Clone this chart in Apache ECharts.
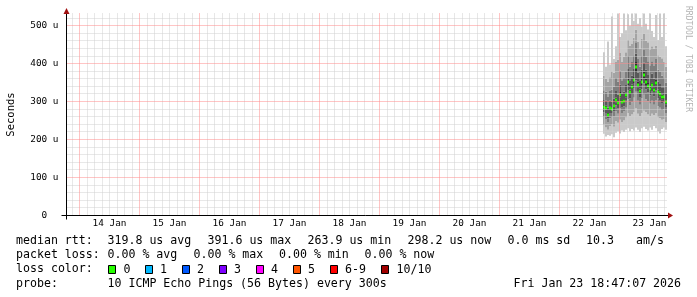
<!DOCTYPE html>
<html><head><meta charset="utf-8">
<script src="https://cdn.jsdelivr.net/npm/echarts@6/dist/echarts.min.js"></script>
<style>html,body{margin:0;padding:0;background:#fff}#c{width:697px;height:297px}</style>
</head><body><div id="c"></div>
<script>
// ---- axes (x in hours since 13 Jan 2026 00:00) ----
const xStart = 18 + 47/60 + 7/3600;      // 13 Jan 18:47:07
const xEnd = xStart + 240;                // 23 Jan 18:47:07
const yMax = 532;                         // microseconds
const dayLabels = ['14 Jan','15 Jan','16 Jan','17 Jan','18 Jan','19 Jan','20 Jan','21 Jan','22 Jan','23 Jan'];
const dayLabelHours = [36,60,84,108,132,156,180,204,228,252];
const yTickValues = [0,100,200,300,400,500];

// ---- smoke data: 48-minute steps starting 22 Jan 17:24 (hours since 13 Jan 00:00) ----
const stepStart = 233.4;
const stepHours = 0.8;
const median = [286,284,266,283,281,288,304,296,318,299,302,317,352,325,338,357,391,345,328,352,370,352,342,333,344,331,350,325,320,312,312,298];
const ping1  = [215,208,212,210,214,206,218,222,216,224,220,226,230,222,228,224,232,226,220,230,234,228,224,232,226,236,230,222,216,228,232,226];
const ping2  = [238,232,226,236,240,234,248,244,252,246,250,258,270,262,266,272,282,268,262,270,276,272,266,262,268,264,270,258,256,252,254,246];
const ping3  = [258,254,246,256,258,260,274,268,282,270,274,284,306,290,298,310,326,302,292,308,318,306,300,294,302,292,304,288,284,278,280,270];
const ping4  = [272,270,256,270,270,274,290,282,300,286,288,302,330,308,320,336,356,326,312,332,348,332,324,316,326,314,330,308,304,296,298,286];
const ping5  = [281,279,262,278,277,283,298,291,311,294,297,311,343,318,331,349,378,338,322,344,361,344,335,326,337,324,342,318,314,306,307,293];
const ping6  = [291,289,270,288,285,293,310,301,325,304,307,323,361,332,345,365,404,352,334,360,379,360,349,340,351,338,358,332,326,318,317,303];
const ping7  = [304,302,284,302,300,308,328,318,345,322,326,344,386,354,368,388,426,376,356,384,402,384,372,362,374,360,380,352,346,338,336,322];
const ping8  = [330,326,312,328,332,340,362,352,382,356,362,380,420,392,404,422,456,412,392,420,436,418,406,396,406,394,412,384,378,368,364,350];
const ping9  = [368,360,352,364,380,376,404,410,428,404,418,430,462,448,452,468,490,458,440,466,478,460,456,438,446,440,448,422,418,414,404,392];
const ping10 = [430,392,458,398,524,412,446,540,470,480,540,488,530,500,540,512,540,505,520,498,540,505,490,540,486,470,528,462,540,470,540,446];

// ---- legend texts ----
const rttStats = ['median rtt:','319.8 us avg','391.6 us max','263.9 us min','298.2 us now','0.0 ms sd','10.3','am/s'];
const lossStats = ['packet loss:','0.00 % avg','0.00 % max','0.00 % min','0.00 % now'];
const lossLabels = ['0','1','2','3','4','5','6-9','10/10'];
const lossColors = ['#26ff00','#00b8ff','#0059ff','#7e00ff','#ff00ff','#ff5500','#ff0000','#a10000'];
const probeText = ['probe:','10 ICMP Echo Pings (56 Bytes) every 300s','Fri Jan 23 18:47:07 2026'];

const smokeColors = ['#cacaca','#a4a4a4','#7e7e7e','#585858','#323232'];
const pings = [ping1,ping2,ping3,ping4,ping5,ping6,ping7,ping8,ping9,ping10];
const smokeData = median.map((m, i) => [stepStart + i*stepHours].concat(pings.map(p => p[i])).concat([m]));

// grid line positions
const minorHours = [], majorHours = [], minorVals = [], majorVals = [];
for (let h = 21; h < xEnd; h += 3) { if (h > xStart) (h % 24 === 0 ? majorHours : minorHours).push([h, yMax / 2]); }
for (let v = 20; v < yMax; v += 20) { (v % 100 === 0 ? majorVals : minorVals).push([xStart + 120, v]); }
const minorGridColor = '#d0d0d0', majorGridColor = '#ff8a8a';

const mono = 'DejaVu Sans Mono';
const chart = echarts.init(document.getElementById('c'), null, {renderer: 'canvas'});

function gridSeries(data, vertical, color) {
  return {
    type: 'custom', z: 10, silent: true, clip: false, data: data, encode: {x: 0, y: 1},
    renderItem: (params, api) => {
      const cs = params.coordSys;
      const p = api.coord([api.value(0), api.value(1)]);
      const style = {stroke: color, fill: null, lineWidth: 1, lineDash: [1, 1]};
      if (vertical) {
        const x = Math.floor(p[0]) + 0.5;
        return {type: 'line', shape: {x1: x, y1: cs.y, x2: x, y2: cs.y + cs.height}, style: style};
      }
      const y = Math.floor(p[1]) + 0.5;
      return {type: 'line', shape: {x1: cs.x + 1, y1: y, x2: cs.x + cs.width, y2: y}, style: style};
    }
  };
}

const option = {
  animation: false,
  backgroundColor: '#ffffff',
  grid: {left: 66.5, right: 30.5, top: 13.5, bottom: 81.5, containLabel: false, outerBoundsMode: 'none'},
  xAxis: {
    type: 'value', min: xStart, max: xEnd,
    axisLine: {show: false},
    axisTick: {show: false},
    splitLine: {show: false},
    axisLabel: {
      show: true, customValues: dayLabelHours, margin: 4,
      fontFamily: mono, fontSize: 9.4, color: '#000',
      formatter: v => dayLabels[dayLabelHours.indexOf(Math.round(v))] || ''
    }
  },
  yAxis: {
    type: 'value', min: 0, max: yMax,
    name: 'Seconds', nameLocation: 'middle', nameGap: 50, nameRotate: 90,
    nameTextStyle: {fontFamily: mono, fontSize: 10.5, color: '#000'},
    axisLine: {show: false},
    axisTick: {show: false},
    splitLine: {show: false},
    axisLabel: {
      show: true, customValues: yTickValues, margin: 8,
      fontFamily: mono, fontSize: 9.4, color: '#000',
      formatter: v => v === 0 ? '0  ' : (v + ' u')
    }
  },
  series: [
    {
      type: 'custom', z: 2, clip: true,
      data: smokeData,
      encode: {x: 0, y: 1},
      renderItem: (params, api) => {
        const t = api.value(0);
        const x0 = Math.round(api.coord([t, 0])[0]);
        const x1 = Math.round(api.coord([t + stepHours, 0])[0]);
        const ys = [];
        for (let k = 1; k <= 10; k++) ys.push(api.coord([t, api.value(k)])[1]);
        const children = [];
        for (let k = 0; k < 9; k++) {
          const ci = Math.min(k, 8 - k);
          children.push({type: 'rect', shape: {x: x0, y: ys[k+1], width: x1 - x0, height: ys[k] - ys[k+1]},
            style: {fill: smokeColors[ci]}});
        }
        const ym = api.coord([t, api.value(11)])[1];
        children.push({type: 'rect', shape: {x: x0, y: Math.round(ym) - 1.5, width: x1 - x0, height: 3},
          style: {fill: lossColors[0]}});
        return {type: 'group', children};
      }
    },
    gridSeries(minorHours, true, minorGridColor),
    gridSeries(minorVals, false, minorGridColor),
    gridSeries(majorHours, true, majorGridColor),
    gridSeries(majorVals, false, majorGridColor)
  ]
};
chart.setOption(option);

// ---- axis lines, arrows, watermark and legend ----
const o = chart.convertToPixel({gridIndex: 0}, [xStart, 0]);
const e = chart.convertToPixel({gridIndex: 0}, [xEnd, yMax]);
const ax = Math.floor(o[0]) + 0.5, ay = Math.floor(o[1]) + 0.5;
const rx = Math.round(e[0]), ty = Math.round(e[1]);
const arrowColor = '#a01010';
const gfx = [
  {type: 'line', z: 20, shape: {x1: ax - 5, y1: ay, x2: rx + 2, y2: ay}, style: {stroke: '#000', lineWidth: 1}},
  {type: 'line', z: 20, shape: {x1: ax, y1: ty, x2: ax, y2: ay + 4}, style: {stroke: '#000', lineWidth: 1}},
  {type: 'polygon', z: 20, shape: {points: [[rx + 1, ay - 3], [rx + 6, ay], [rx + 1, ay + 3]]}, style: {fill: arrowColor}},
  {type: 'polygon', z: 20, shape: {points: [[ax - 3, ty], [ax, ty - 6], [ax + 3, ty]]}, style: {fill: arrowColor}},
  {type: 'text', x: 688, y: 59, rotation: -Math.PI/2,
    style: {text: 'RRDTOOL / TOBI OETIKER', fill: '#b4b4b4', font: '8px "DejaVu Sans Mono"', align: 'center', verticalAlign: 'middle'}}
];
const legendFont = '11.6px "DejaVu Sans Mono"';
function txt(x, y, s) {
  gfx.push({type: 'text', x: x, y: y, style: {text: s, fill: '#000', font: legendFont, align: 'left', verticalAlign: 'middle'}});
}
const row1X = [16,107.5,207.5,307.5,407.5,507.5,586,636];
rttStats.forEach((s, i) => txt(row1X[i], 241, s));
const row2X = [16,107.5,193.5,279,364.5];
lossStats.forEach((s, i) => txt(row2X[i], 255, s));
txt(16, 269, 'loss color:');
const boxX = [108.5,145.5,182.5,219.5,256.5,293.5,330.5,381.5];
const labX = [123.5,160,197,234,271,308,345,396.5];
lossLabels.forEach((s, i) => {
  gfx.push({type: 'rect', shape: {x: boxX[i], y: 265.5, width: 7, height: 8}, style: {fill: lossColors[i], stroke: '#000', lineWidth: 1}});
  txt(labX[i], 269.5, s);
});
txt(16, 283.5, probeText[0]);
txt(107.5, 283.5, probeText[1]);
txt(513.5, 283.5, probeText[2]);
chart.setOption({graphic: {elements: gfx}});
</script>
</body></html>
